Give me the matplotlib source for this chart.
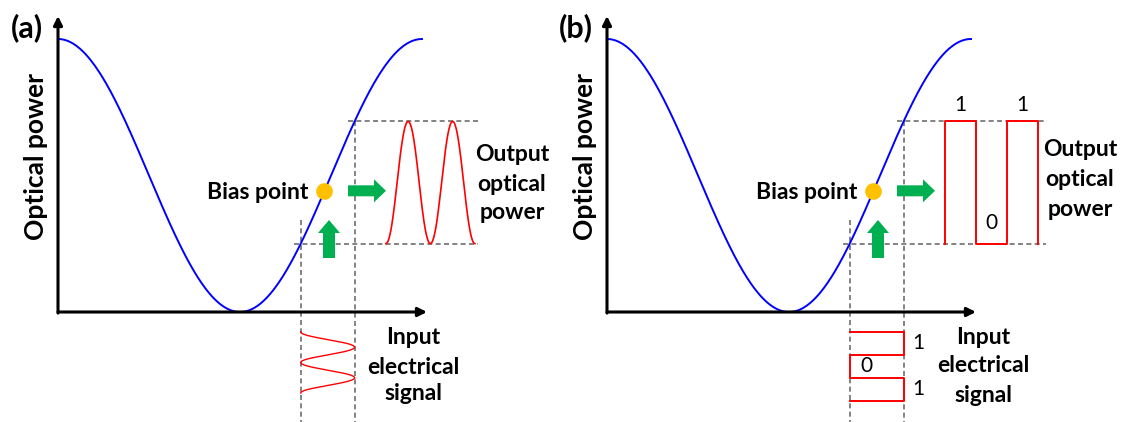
"""
Modulator transfer curve, analog (a) and digital (b) drive.
"""

import numpy as np
import matplotlib
matplotlib.use("Agg")
import matplotlib.pyplot as plt
from matplotlib.patches import FancyArrow

plt.rcParams["font.family"] = ["Lato", "DejaVu Sans"]

# ── data ──
panel_labels = ["(a)", "(b)"]
bias_phase = 4.60          # rad, bias point on the curve
drive_low, drive_high = 4.19, 5.12   # rad, swing of the drive signal
analog_periods = 2
bits = [1, 0, 1]
curve_end = 2 * np.pi

# output trace placement (rad along the x axis)
analog_out_start, analog_out_period = 5.66, 0.768
digital_out_start, digital_bit_width = 5.83, 0.535
# input trace placement (below the x axis, transmission units)
in_top, in_period = -0.073, 0.112
bit_height = 0.084

# ── layout (pixels) ──
W_PX, H_PX = 1124, 422
ORX, ORY = 58, 312
PX_RAD = 364 / (2 * np.pi)
PX_T = 273

BLUE, RED, GREEN, GOLD, GREY = "#0000FF", "#FF0000", "#00B050", "#FFC000", "#6E6E6E"
FS = 16.5


def T(phi):
    return (1 + np.cos(phi)) / 2


def P(x, y):
    """panel pixel -> data coords"""
    return (x - ORX) / PX_RAD, (ORY - y) / PX_T


fig = plt.figure(figsize=(W_PX / 100, H_PX / 100), dpi=100)


def add_panel(left_px, width_px):
    ax = fig.add_axes([left_px / W_PX, 0, width_px / W_PX, 1])
    ax.set_xlim(-ORX / PX_RAD, (width_px - ORX) / PX_RAD)
    ax.set_ylim(-(H_PX - ORY) / PX_T, ORY / PX_T)
    ax.axis("off")
    return ax


def dash(ax, xs, ys):
    ax.plot(xs, ys, color=GREY, lw=1.2, dashes=(3, 2), zorder=1)


def base(ax, label, dash_right):
    phi = np.linspace(0, curve_end, 500)
    ax.plot(phi, T(phi), color=BLUE, lw=1.4, zorder=3)

    # axes with arrows
    x_end = P(427, 0)[0]
    y_end = P(0, 16)[1]
    ax.annotate("", xy=(x_end, 0), xytext=(0, 0),
                arrowprops=dict(arrowstyle="-|>", color="black", lw=2.2,
                                mutation_scale=13, shrinkA=0, shrinkB=0))
    ax.annotate("", xy=(0, y_end), xytext=(0, -0.004),
                arrowprops=dict(arrowstyle="-|>", color="black", lw=2.2,
                                mutation_scale=13, shrinkA=0, shrinkB=0))

    t_low, t_high = T(drive_low), T(drive_high)
    bottom = ax.get_ylim()[0]
    dash(ax, [drive_low - 0.12, dash_right], [t_low, t_low])
    dash(ax, [drive_high - 0.11, dash_right], [t_high, t_high])
    dash(ax, [drive_low, drive_low], [P(0, 220)[1], bottom])
    dash(ax, [drive_high, drive_high], [t_high, bottom])

    # bias point + green arrows
    ax.plot(bias_phase, T(bias_phase), "o", color=GOLD, ms=12, mec="none", zorder=5)
    ax.text(bias_phase - 16 / PX_RAD, P(0, 193)[1], "Bias point", ha="right", va="center",
            fontsize=FS, fontweight="bold")
    yb = T(bias_phase)
    x0, x1 = P(348, 0)[0], P(386, 0)[0]
    ax.add_patch(FancyArrow(x0, yb, x1 - x0, 0, width=11 / PX_T, head_width=23 / PX_T,
                            head_length=12 / PX_RAD, length_includes_head=True,
                            color=GREEN, lw=0, zorder=4))
    xu = P(329, 0)[0]
    y0, y1 = P(0, 258)[1], P(0, 220)[1]
    ax.add_patch(FancyArrow(xu, y0, 0, y1 - y0, width=12 / PX_RAD, head_width=22 / PX_RAD,
                            head_length=13 / PX_T, length_includes_head=True,
                            color=GREEN, lw=0, zorder=4))

    ax.text(*P(36, 157), "Optical power", rotation=90, ha="center", va="center",
            fontsize=19, fontweight="bold")
    ax.text(*P(27, 28), label, ha="center", va="center", fontsize=22, fontweight="bold")


def lines(ax, words, xc, ys):
    for w, y in zip(words, ys):
        ax.text(*P(xc, y), w, ha="center", va="center", fontsize=FS, fontweight="bold")


# ── (a) analog ──
ax = add_panel(0, 560)
base(ax, panel_labels[0], P(478, 0)[0])
s = np.linspace(0, analog_periods, 400)
drive = drive_low + (drive_high - drive_low) * (1 - np.cos(2 * np.pi * s)) / 2
ax.plot(analog_out_start + s * analog_out_period, T(drive), color=RED, lw=1.2, zorder=3)
ax.plot(drive, in_top - s * in_period, color=RED, lw=1.0, zorder=3)
lines(ax, ["Output", "optical", "power"], 512, [155, 185, 213])
lines(ax, ["Input", "electrical", "signal"], 413, [337, 367, 394])

# ── (b) digital ──
ax = add_panel(549, 575)
base(ax, panel_labels[1], P(497, 0)[0])
levels = [drive_high if b else drive_low for b in bits]

ox, oy = [digital_out_start], [T(drive_low)]
ix, iy = [drive_low], [in_top]
for k, lv in enumerate(levels):
    ox += [digital_out_start + k * digital_bit_width, digital_out_start + (k + 1) * digital_bit_width]
    oy += [T(lv), T(lv)]
    ix += [lv, lv]
    iy += [in_top - k * bit_height, in_top - (k + 1) * bit_height]
ox.append(ox[-1]); oy.append(T(drive_low))
ix.append(drive_low); iy.append(iy[-1])
ax.plot(ox, oy, color=RED, lw=1.4, zorder=3)
ax.plot(ix, iy, color=RED, lw=1.4, zorder=3)

for k, b in enumerate(bits):
    xc = digital_out_start + (k + 0.5) * digital_bit_width
    yo = P(0, 105)[1] if b else P(0, 223)[1]
    ax.text(xc, yo, str(b), ha="center", va="center", fontsize=15)
    yi = in_top - (k + 0.5) * bit_height
    xi = drive_high + 9 / PX_RAD if b else drive_low + 11 / PX_RAD
    ax.text(xi, yi, str(b), ha="left", va="center", fontsize=15)

lines(ax, ["Output", "optical", "power"], 531, [150, 180, 210])
lines(ax, ["Input", "electrical", "signal"], 434, [337, 366, 395])

fig.savefig("out.png", dpi=100, facecolor="white")
